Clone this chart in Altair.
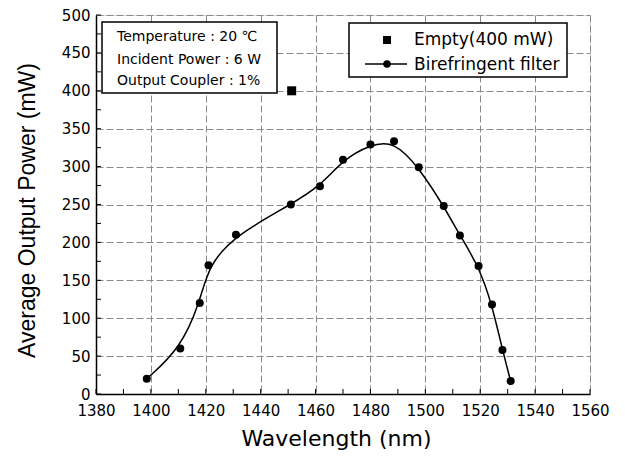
import altair as alt
import pandas as pd

# Birefringent filter tuning curve
wavelength = [1398.5, 1410.7, 1417.8, 1421.0, 1431.0, 1451.0, 1461.6, 1470.0, 1480.0,
              1488.6, 1497.6, 1506.7, 1512.6, 1519.4, 1524.3, 1528.1, 1531.1]
power = [20, 60, 120, 170, 210, 250, 274, 309, 329, 333.5, 299, 248, 209, 169, 118, 58, 17]

# Empty cavity point
empty_wavelength = [1451.3]
empty_power = [400]

x_ticks = list(range(1380, 1561, 20))
y_ticks = list(range(0, 501, 50))
x_minor = list(range(1380, 1561, 10))
y_minor = list(range(0, 501, 25))

info_lines = ["Temperature : 20 \u2103", "Incident Power : 6 W", "Output Coupler : 1%"]
legend_labels = ["Empty(400 mW)", "Birefringent filter"]

W, H = 494, 379

df = pd.DataFrame({"w": wavelength, "p": power})
df_empty = pd.DataFrame({"w": empty_wavelength, "p": empty_power})
df_xt = pd.DataFrame({"w": x_minor})
df_yt = pd.DataFrame({"p": y_minor})
one = pd.DataFrame({"k": [0]})

xs = alt.Scale(domain=[1380, 1560], nice=False, zero=False)
ys = alt.Scale(domain=[0, 500], nice=False)

xaxis = alt.Axis(values=x_ticks, format="d", title="Wavelength (nm)", grid=True, ticks=False,
                 labelPadding=9, labelFont="DejaVu Sans", labelFontSize=15, labelColor="black",
                 titleFont="DejaVu Sans", titleFontSize=22, titleFontWeight="normal",
                 titleColor="black", titleX=240, titleY=51, titleBaseline="alphabetic",
                 titleAlign="center", domainColor="black", domainWidth=1.5,
                 gridColor="#8a8a8a", gridDash=[7, 3], gridWidth=1, labelFlush=False)
yaxis = alt.Axis(values=y_ticks, format="d", title="Average Output Power (mW)", grid=True, ticks=False,
                 labelPadding=6, labelFont="DejaVu Sans", labelFontSize=15, labelColor="black",
                 titleFont="Liberation Sans", titleFontSize=23, titleFontWeight="normal",
                 titleColor="black", titleX=-62, titleY=195, titleAngle=270,
                 titleBaseline="alphabetic", titleAlign="center",
                 domainColor="black", domainWidth=1.5,
                 gridColor="#8a8a8a", gridDash=[7, 3], gridWidth=1, labelFlush=False)

X = lambda: alt.X("w:Q", scale=xs, axis=xaxis)
Y = lambda: alt.Y("p:Q", scale=ys, axis=yaxis)

line = alt.Chart(df).mark_line(interpolate="basis", color="black", strokeWidth=1.5).encode(x=X(), y=Y())
pts = alt.Chart(df).mark_point(shape="circle", filled=True, color="black", size=64, opacity=1).encode(x=X(), y=Y())
sq = alt.Chart(df_empty).mark_point(shape="square", filled=True, color="black", size=81, opacity=1).encode(x=X(), y=Y())

xtk = alt.Chart(df_xt).mark_rule(color="black", strokeWidth=1).encode(
    x=X(), y=alt.value(H), y2=alt.value(H - 5))
ytk = alt.Chart(df_yt).mark_rule(color="black", strokeWidth=1).encode(
    y=Y(), x=alt.value(0), x2=alt.value(5))

# Info box
info_box = alt.Chart(one).mark_rect(fill="white", stroke="black", strokeWidth=1.5).encode(
    x=alt.value(6), x2=alt.value(181), y=alt.value(7), y2=alt.value(78))
info_y = [26, 49, 70]
info_texts = [
    alt.Chart(one).mark_text(align="left", baseline="alphabetic", font="DejaVu Sans",
                             fontSize=14, color="black").encode(
        x=alt.value(21), y=alt.value(yy), text=alt.value(t))
    for t, yy in zip(info_lines, info_y)
]

# Legend box
leg_box = alt.Chart(one).mark_rect(fill="white", stroke="black", strokeWidth=1.5).encode(
    x=alt.value(253), x2=alt.value(471), y=alt.value(8), y2=alt.value(62))
leg_sq = alt.Chart(one).mark_point(shape="square", filled=True, color="black", size=64, opacity=1).encode(
    x=alt.value(291), y=alt.value(25))
leg_line = alt.Chart(one).mark_rule(color="black", strokeWidth=1.5).encode(
    x=alt.value(269), x2=alt.value(311), y=alt.value(49))
leg_dot = alt.Chart(one).mark_point(shape="circle", filled=True, color="black", size=56, opacity=1).encode(
    x=alt.value(291), y=alt.value(49))
leg_texts = [
    alt.Chart(one).mark_text(align="left", baseline="alphabetic", font="DejaVu Sans",
                             fontSize=17, color="black").encode(
        x=alt.value(318), y=alt.value(yy), text=alt.value(t))
    for t, yy in zip(legend_labels, [30, 55])
]

chart = alt.layer(
    line, pts, sq, xtk, ytk, info_box, *info_texts, leg_box, leg_sq, leg_line, leg_dot, *leg_texts
).properties(
    width=W, height=H,
    autosize=alt.AutoSizeParams(type="none"),
    padding={"left": 88, "top": 7, "right": 27, "bottom": 57},
).configure_view(stroke="black", strokeWidth=2).configure(background="white")

chart.save("out.html", embed_options={"renderer": "svg", "actions": False})
